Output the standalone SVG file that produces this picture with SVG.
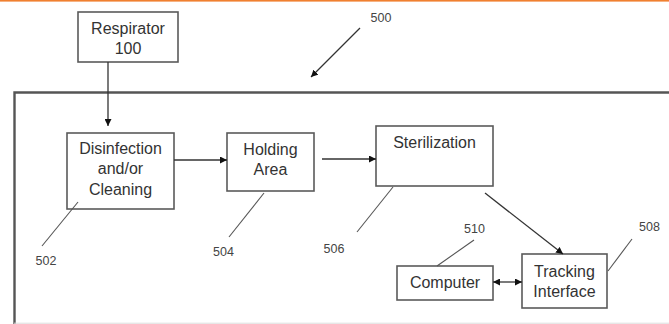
<svg xmlns="http://www.w3.org/2000/svg" width="669" height="324" viewBox="0 0 669 324">
  <style>
    .box { fill: #fff; stroke: #5a5a5a; stroke-width: 1.6; }
    .frame { fill: none; stroke: #555; stroke-width: 2.4; }
    .label { font-family: "Liberation Sans", Arial, sans-serif; font-size: 16px; fill: #333; text-anchor: middle; }
    .ref { font-family: "Liberation Sans", Arial, sans-serif; font-size: 12.5px; fill: #444; text-anchor: middle; }
    .conn { stroke: #333; stroke-width: 1.3; fill: none; }
    .lead { stroke: #555; stroke-width: 1.1; fill: none; }
  </style>
  <defs>
    <marker id="arrow" viewBox="0 0 10 10" refX="10" refY="5" markerWidth="7" markerHeight="7" markerUnits="userSpaceOnUse" orient="auto-start-reverse">
      <path d="M0,0 L10,5 L0,10 Z" fill="#111"/>
    </marker>
  </defs>

  <rect width="669" height="324" fill="#fff"/>
  <!-- top accent rule -->
  <rect x="0" y="0" width="669" height="1.6" fill="#f08030"/>

  <!-- system enclosure 500 -->
  <g id="system-500">
    <path class="frame" d="M14.5,324 V92.5 H670"/>
    <line x1="14" y1="323.2" x2="669" y2="323.2" stroke="#ddd" stroke-width="1"/>
  </g>

  <g id="respirator">
    <rect class="box" x="78" y="12" width="100" height="50"/>
    <text class="label" x="128" y="33.5">Respirator</text>
    <text class="label" x="128" y="53.5">100</text>
  </g>

  <g id="disinfection">
    <rect class="box" x="67" y="133" width="107" height="76"/>
    <text class="label" x="120.5" y="153.5">Disinfection</text>
    <text class="label" x="120.5" y="174">and/or</text>
    <text class="label" x="120.5" y="194.5">Cleaning</text>
  </g>

  <g id="holding-area">
    <rect class="box" x="227" y="133" width="87" height="58"/>
    <text class="label" x="270.5" y="154.5">Holding</text>
    <text class="label" x="270.5" y="174.5">Area</text>
  </g>

  <g id="sterilization">
    <rect class="box" x="376" y="126" width="117" height="60"/>
    <text class="label" x="434.5" y="147.5">Sterilization</text>
  </g>

  <g id="computer">
    <rect class="box" x="397" y="266" width="96" height="34"/>
    <text class="label" x="445" y="287.5">Computer</text>
  </g>

  <g id="tracking-interface">
    <rect class="box" x="522" y="254" width="85" height="54"/>
    <text class="label" x="564.5" y="276.5">Tracking</text>
    <text class="label" x="564.5" y="296.5">Interface</text>
  </g>

  <g id="connectors">
    <line class="conn" x1="108" y1="62" x2="108" y2="126" marker-end="url(#arrow)"/>
    <line class="conn" x1="174" y1="160" x2="227" y2="160" marker-end="url(#arrow)"/>
    <line class="conn" x1="322" y1="159" x2="376" y2="159" marker-end="url(#arrow)"/>
    <line class="conn" x1="485" y1="193" x2="563" y2="254" marker-end="url(#arrow)"/>
    <line class="conn" x1="493" y1="282" x2="522" y2="282" marker-start="url(#arrow)" marker-end="url(#arrow)"/>
    <line class="conn" x1="360" y1="28" x2="311" y2="77" marker-end="url(#arrow)"/>
  </g>

  <g id="reference-numerals">
    <text class="ref" x="381" y="21.5">500</text>
    <line class="lead" x1="42" y1="246" x2="78" y2="202"/>
    <text class="ref" x="46" y="264.5">502</text>
    <line class="lead" x1="229" y1="237" x2="264" y2="193"/>
    <text class="ref" x="223.5" y="255.5">504</text>
    <line class="lead" x1="357" y1="232" x2="393" y2="187"/>
    <text class="ref" x="334" y="252.5">506</text>
    <line class="lead" x1="474" y1="240" x2="437" y2="266"/>
    <text class="ref" x="474.5" y="232.5">510</text>
    <line class="lead" x1="632" y1="239" x2="608" y2="271"/>
    <text class="ref" x="649.5" y="230.5">508</text>
  </g>
</svg>
